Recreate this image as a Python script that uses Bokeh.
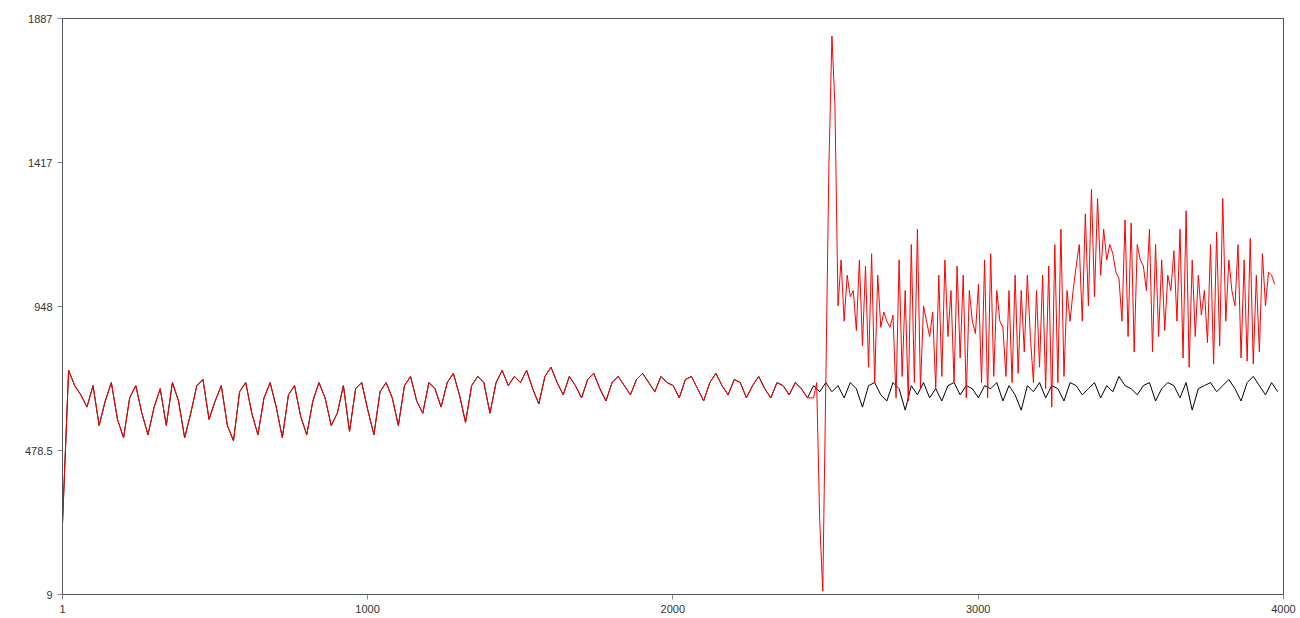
from bokeh.plotting import figure
from bokeh.models import FixedTicker, Range1d
from bokeh.embed import file_html
from bokeh.resources import INLINE

# observed series, every 20 steps
black_y = [
    240, 740, 690, 660, 620, 690, 560, 640, 700, 580, 520, 650, 690, 600, 530, 620, 680, 560, 700, 640, 520, 600, 690, 710, 580,
    640, 690, 560, 510, 670, 700, 600, 530, 650, 700, 620, 520, 660, 690, 590, 530, 640, 700, 650, 560, 600, 690, 540, 680, 700,
    610, 530, 670, 700, 650, 560, 690, 720, 640, 600, 700, 680, 620, 700, 730, 660, 570, 690, 720, 700, 600, 700, 740, 690, 720,
    700, 740, 680, 630, 720, 750, 700, 660, 720, 690, 650, 710, 730, 680, 640, 700, 720, 690, 660, 710, 730, 700, 670, 720, 700,
    690, 650, 710, 720, 680, 640, 700, 730, 690, 660, 710, 700, 650, 690, 720, 680, 650, 700, 690, 660, 700, 680, 650, 690, 670,
    700, 670, 690, 650, 700, 680, 620, 690, 700, 660, 640, 700, 680, 610, 690, 660, 700, 650, 680, 640, 690, 700, 660, 690, 680,
    650, 690, 680, 700, 640, 690, 660, 610, 690, 670, 700, 650, 690, 680, 640, 700, 690, 660, 680, 700, 650, 690, 670, 720, 690,
    680, 660, 690, 700, 640, 680, 700, 690, 650, 700, 610, 680, 690, 700, 670, 690, 710, 680, 640, 700, 720, 690, 660, 700, 670,
]
black_x = list(range(1, 4001, 20))

# second series after it departs, every 10 steps from 2461
red_tail_y = [
    650, 700, 250, 20, 700, 1400, 1830, 1600, 950,
    1100, 900, 1050, 980, 1000, 870, 1100, 820, 1080, 750, 1120, 700, 1050, 880, 930,
    900, 880, 920, 650, 1100, 720, 1000, 640, 1150, 700, 1200, 680, 950, 900, 850, 930,
    680, 1050, 720, 1100, 850, 1000, 700, 1080, 780, 1050, 650, 1000, 900, 860, 1020, 700,
    1100, 650, 1120, 720, 1000, 900, 880, 720, 1000, 700, 1050, 730, 1000, 800, 1050, 850,
    700, 1000, 750, 1050, 680, 1080, 620, 1150, 700, 1200, 720, 1000, 900, 1000, 1080, 1150,
    900, 1250, 950, 1330, 980, 1300, 1050, 1200, 1100, 1150, 1120, 1060, 1040, 900, 1230, 850,
    1220, 800, 1150, 1100, 1080, 1000, 1200, 800, 1150, 850, 1100, 870, 1050, 1000, 1130, 900,
    1200, 780, 1260, 750, 1100, 850, 1050, 920, 1000, 830, 1150, 760, 1190, 820, 1300, 900,
    1100, 1000, 950, 1150, 780, 1100, 770, 1170, 760, 1050, 800, 1120, 950, 1060, 1050, 1020,
]
red_tail_x = list(range(2461, 2461 + 10 * len(red_tail_y), 10))

red_x = black_x[:123] + red_tail_x
red_y = black_y[:123] + red_tail_y

y_ticks = [9, 478.5, 948, 1417, 1887]
x_ticks = [1, 1000, 2000, 3000, 4000]

p = figure(width=1300, height=618, output_backend="svg", toolbar_location=None,
           x_range=Range1d(1, 4000), y_range=Range1d(9, 1887),
           min_border_left=62, min_border_right=17, min_border_top=18, min_border_bottom=24)
p.line(black_x, black_y, color="black", line_width=1)
p.line(red_x, red_y, color="red", line_width=1)

p.xgrid.visible = False
p.ygrid.visible = False
p.outline_line_color = "#555555"
p.xaxis.ticker = FixedTicker(ticks=x_ticks)
p.yaxis.ticker = FixedTicker(ticks=y_ticks)
p.yaxis.major_label_overrides = {9: "9", 478.5: "478.5", 948: "948", 1417: "1417", 1887: "1887"}
for ax in (p.xaxis, p.yaxis):
    ax.minor_tick_line_color = None
    ax.axis_line_color = "#555555"
    ax.major_tick_line_color = "#888888"
    ax.major_label_text_font = "Liberation Sans"
    ax.major_label_text_font_size = "11px"
    ax.major_label_text_color = "#333333"
    ax.major_tick_out = 5
    ax.major_tick_in = 0

open("out.html", "w").write(file_html(p, INLINE))
